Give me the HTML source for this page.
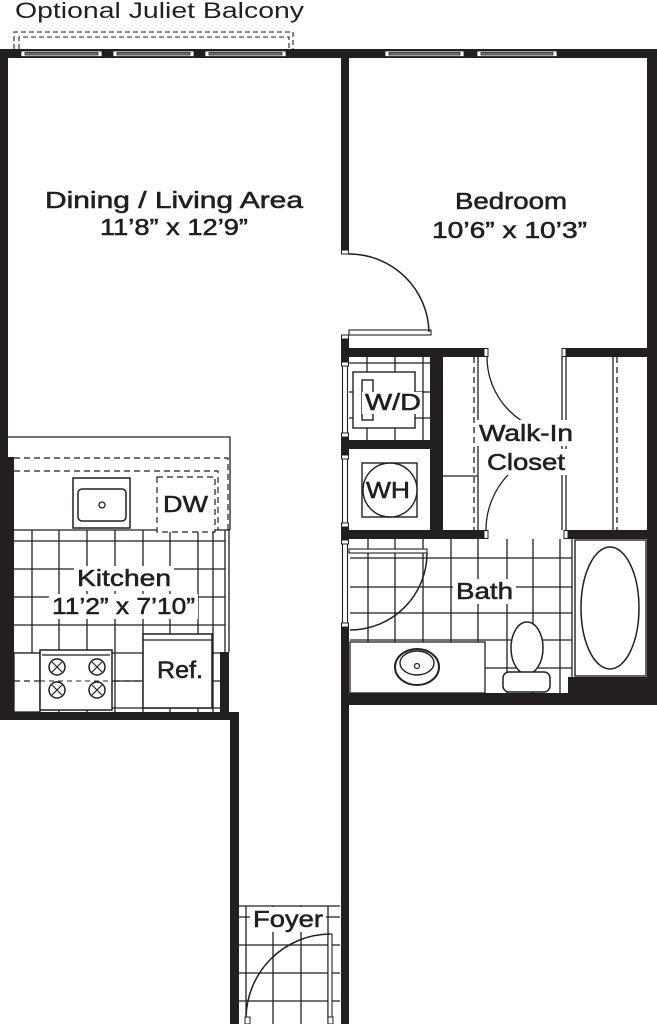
<!DOCTYPE html>
<html><head><meta charset="utf-8"><style>
html,body{margin:0;padding:0;background:#fff;}
svg{display:block;}
text{font-family:"Liberation Sans",Arial,sans-serif;fill:#231f20;font-weight:normal;font-size:23px;stroke:#231f20;stroke-width:0.55px;}
</style></head><body>
<svg width="657" height="1024" viewBox="0 0 657 1024" xmlns="http://www.w3.org/2000/svg">
<rect width="657" height="1024" fill="#fff"/>

<!-- Balcony -->
<text x="15" y="18" textLength="289" lengthAdjust="spacingAndGlyphs" style="font-weight:normal;font-size:22px;stroke-width:0">Optional Juliet Balcony</text>
<g fill="none" stroke="#231f20" stroke-width="1.1" stroke-dasharray="5,3">
<path d="M14,49 V32 H293 V49"/>
<path d="M19,49 V37 H289 V49"/>
</g>

<!-- Tiles: kitchen -->
<g stroke="#231f20" stroke-width="1.3" fill="none">
<path d="M32,530V712M59,530V712M87,530V712M115,530V712M143,530V712M170,530V712M198,530V712M213,530V712"/>
<path d="M14,541H225M14,569H225M14,597H225M14,625H225M14,653H225M112,681H225M112,708H225"/>
<!-- bath tiles -->
<path d="M368,539V642M395,539V642M423,539V642M451,539V642M478,539V642M507,539V693M533,539V693M560,539V693M572,539V693"/>
<path d="M350,558H572M350,587H572M350,613H572M350,640H572M485,668H572"/>
<!-- laundry tiles -->
<path d="M367,357V440M395,357V440M423,357V440M349,363H430M349,392H430M349,418H430"/>
<!-- foyer tiles -->
<path d="M239,906H340M246,906V1024M273,906V1024M301,906V1024M328,906V1024M239,917H340M239,945H340M239,973H340M239,1001H340"/>
</g>

<!-- Kitchen counter -->
<g stroke="#231f20" stroke-width="1.3" fill="none">
<path d="M8,437H230V530"/>
<path d="M225,530V652M229,530V652"/>
<path d="M14,530H230"/>
</g>
<g stroke="#231f20" stroke-width="1.2" fill="none" stroke-dasharray="6,4">
<path d="M14,458H228V530"/>
<path d="M14,471H218V530"/>
</g>
<!-- sink -->
<rect x="73" y="478" width="57" height="50" fill="#fff" stroke="#231f20" stroke-width="1.5"/>
<rect x="78" y="489" width="48" height="32" rx="4" fill="#fff" stroke="#231f20" stroke-width="1.5"/>
<circle cx="102" cy="505" r="3" fill="#fff" stroke="#231f20" stroke-width="1.3"/>
<!-- DW -->
<rect x="157" y="477" width="58" height="55" fill="#fff" stroke="#231f20" stroke-width="1.2" stroke-dasharray="6,4"/>
<text x="163" y="512" textLength="45" lengthAdjust="spacingAndGlyphs">DW</text>

<!-- left counter lower + stove -->
<rect x="14" y="653" width="26" height="59" fill="#fff" stroke="#231f20" stroke-width="1.3"/>
<path d="M14,681H140" stroke="#231f20" stroke-width="1.2" stroke-dasharray="6,4"/>
<rect x="40" y="650" width="72" height="60" fill="#fff" stroke="#231f20" stroke-width="1.5"/>
<path d="M42,655H110" stroke="#231f20" stroke-width="1.2"/>
<g fill="#fff" stroke="#231f20" stroke-width="1.5">
<circle cx="57" cy="667" r="8"/><circle cx="97" cy="667" r="8"/>
<circle cx="57" cy="690" r="8"/><circle cx="97" cy="690" r="8"/>
</g>
<g stroke="#231f20" stroke-width="1.2">
<path d="M52,662l10,10M62,662l-10,10M92,662l10,10M102,662l-10,10M52,685l10,10M62,685l-10,10M92,685l10,10M102,685l-10,10"/>
</g>
<path d="M40,681H112" stroke="#231f20" stroke-width="1.1" stroke-dasharray="5,4"/>
<!-- Ref -->
<rect x="143" y="634" width="69" height="74" fill="#fff" stroke="#231f20" stroke-width="1.5"/>
<path d="M143,640H212" stroke="#231f20" stroke-width="1.3"/>
<text x="157" y="678" textLength="46" lengthAdjust="spacingAndGlyphs" style="font-size:24px">Ref.</text>

<!-- Kitchen label -->
<rect x="74" y="566" width="100" height="25" fill="#fff"/>
<rect x="49" y="594" width="149" height="25" fill="#fff"/>
<text x="77" y="586" textLength="94" lengthAdjust="spacingAndGlyphs">Kitchen</text>
<text x="52" y="614" textLength="143" lengthAdjust="spacingAndGlyphs">11’2” x 7’10”</text>

<!-- Walls -->
<g fill="#231f20">
<rect x="0" y="49" width="657" height="9"/>
<rect x="0" y="49" width="8" height="671"/>
<rect x="0" y="457" width="14" height="263"/>
<rect x="0" y="712" width="239" height="8"/>
<rect x="230" y="712" width="9" height="312"/>
<rect x="220" y="652" width="9" height="68"/>
<rect x="341" y="49" width="8" height="201"/>
<rect x="341" y="335" width="8" height="27"/>
<rect x="341" y="437" width="8" height="18"/>
<rect x="341" y="527" width="8" height="13"/>
<rect x="341" y="627" width="8" height="397"/>
<rect x="341" y="348" width="146" height="9"/>
<rect x="563" y="348" width="94" height="9"/>
<rect x="647" y="49" width="10" height="656"/>
<rect x="430" y="357" width="13" height="182"/>
<rect x="341" y="440" width="89" height="9"/>
<rect x="341" y="530" width="146" height="9"/>
<rect x="565" y="530" width="92" height="9"/>
<rect x="341" y="693" width="316" height="12"/>
<rect x="568" y="677" width="79" height="16"/>
</g>

<!-- Windows -->
<g stroke="#231f20" stroke-width="0.8">
<g fill="#fff">
<rect x="21" y="51" width="81" height="5.5"/><rect x="113" y="51" width="81" height="5.5"/><rect x="205" y="51" width="81" height="5.5"/>
<rect x="385" y="51" width="79" height="5.5"/><rect x="477" y="51" width="80" height="5.5"/>
</g>
<g fill="#777">
<rect x="25" y="52.5" width="73" height="2.5"/><rect x="117" y="52.5" width="73" height="2.5"/><rect x="209" y="52.5" width="73" height="2.5"/>
<rect x="389" y="52.5" width="71" height="2.5"/><rect x="481" y="52.5" width="72" height="2.5"/>
</g>
</g>

<!-- Jambs -->
<g fill="#fff" stroke="#231f20" stroke-width="1">
<rect x="341.5" y="250" width="7" height="4"/>
<rect x="341.5" y="335" width="7" height="4"/>
<rect x="484" y="348.5" width="4" height="8"/>
<rect x="562" y="348.5" width="4" height="8"/>
<rect x="484" y="530.5" width="4" height="8"/>
<rect x="564" y="530.5" width="4" height="8"/>
</g>
<!-- laundry bifold lines -->
<g stroke="#231f20" stroke-width="1.1" fill="none">
<path d="M342.5,362V437M347.5,362V437M342.5,455V527M347.5,455V527M342.5,540V627M347.5,540V627"/>
</g>
<g fill="#fff" stroke="#231f20" stroke-width="1">
<rect x="341.5" y="362" width="7" height="4"/><rect x="341.5" y="433" width="7" height="4"/>
<rect x="341.5" y="455" width="7" height="4"/><rect x="341.5" y="523" width="7" height="4"/>
<rect x="341.5" y="540" width="7" height="4"/><rect x="341.5" y="623" width="7" height="4"/>
</g>

<!-- Bedroom door -->
<rect x="349" y="330" width="82" height="5" fill="#fff" stroke="#231f20" stroke-width="1.1"/>
<path d="M349,254 A80,80 0 0 1 429,332" fill="none" stroke="#231f20" stroke-width="1.5"/>

<!-- W/D -->
<rect x="353" y="372" width="62" height="56" fill="#fff" stroke="#231f20" stroke-width="1.4"/>
<rect x="362" y="380" width="11" height="40" fill="#fff" stroke="#231f20" stroke-width="1.4"/>
<rect x="362" y="392" width="60" height="22" fill="#fff"/>
<text x="365" y="410" textLength="56" lengthAdjust="spacingAndGlyphs">W/D</text>
<!-- WH -->
<rect x="362" y="463" width="55" height="54" fill="#fff" stroke="#231f20" stroke-width="1.4"/>
<circle cx="390" cy="490" r="27" fill="#fff" stroke="#231f20" stroke-width="1.4"/>
<text x="366" y="498" textLength="44" lengthAdjust="spacingAndGlyphs">WH</text>

<!-- Closet -->
<g stroke="#231f20" stroke-width="1.3" fill="none">
<path d="M478,357V530M443,476H478"/>
<path d="M474,357V530" stroke-dasharray="6,4"/>
<path d="M562,357V530M566,357V530M613,357V530"/>
<path d="M617,357V530" stroke-dasharray="6,4"/>
<path d="M487,357 A76,76 0 0 0 563,433"/>
<path d="M486,530 A80,80 0 0 1 566,450"/>
</g>
<rect x="476" y="420" width="100" height="26" fill="#fff"/>
<rect x="484" y="449" width="84" height="26" fill="#fff"/>
<text x="479" y="441" textLength="94" lengthAdjust="spacingAndGlyphs">Walk-In</text>
<text x="487" y="470" textLength="78" lengthAdjust="spacingAndGlyphs">Closet</text>

<!-- Bath -->
<rect x="349" y="549" width="78" height="4" fill="#fff" stroke="#231f20" stroke-width="1.1"/>
<path d="M427,553 A77,77 0 0 1 350,630" fill="none" stroke="#231f20" stroke-width="1.5"/>
<rect x="350" y="642" width="135" height="51" fill="#fff" stroke="#231f20" stroke-width="1.3"/>
<ellipse cx="417" cy="667" rx="22" ry="18" fill="#fff" stroke="#231f20" stroke-width="2"/>
<ellipse cx="417" cy="663" rx="17" ry="12" fill="#fff" stroke="#231f20" stroke-width="1.4"/>
<circle cx="417" cy="666" r="2.5" fill="#fff" stroke="#231f20" stroke-width="1.2"/>
<ellipse cx="527" cy="648" rx="16" ry="26" fill="#fff" stroke="#231f20" stroke-width="1.5"/>
<rect x="503" y="672" width="47" height="20" rx="6" fill="#fff" stroke="#231f20" stroke-width="1.5"/>
<rect x="575" y="540" width="71" height="136" fill="#fff" stroke="#231f20" stroke-width="1.4"/>
<ellipse cx="610" cy="608" rx="29" ry="61" fill="#fff" stroke="#231f20" stroke-width="1.5"/>
<rect x="453" y="579" width="63" height="25" fill="#fff"/>
<text x="456" y="599" textLength="57" lengthAdjust="spacingAndGlyphs">Bath</text>

<!-- Foyer -->
<rect x="250" y="907" width="76" height="25" fill="#fff"/>
<text x="253" y="927" textLength="70" lengthAdjust="spacingAndGlyphs">Foyer</text>
<rect x="328" y="934" width="4" height="84" fill="#fff" stroke="#231f20" stroke-width="1.1"/>
<path d="M330,934 A85,85 0 0 0 246,1019" fill="none" stroke="#231f20" stroke-width="1.5"/>
<g fill="#fff" stroke="#231f20" stroke-width="1">
<rect x="245" y="1017" width="5" height="7"/><rect x="328" y="1017" width="5" height="7"/>
</g>

<!-- Room labels -->
<text x="45" y="208" textLength="258" lengthAdjust="spacingAndGlyphs">Dining / Living Area</text>
<text x="100" y="235" textLength="148" lengthAdjust="spacingAndGlyphs">11’8” x 12’9”</text>
<text x="455" y="209" textLength="112" lengthAdjust="spacingAndGlyphs">Bedroom</text>
<text x="432" y="238" textLength="155" lengthAdjust="spacingAndGlyphs">10’6” x 10’3”</text>
</svg>
</body></html>
